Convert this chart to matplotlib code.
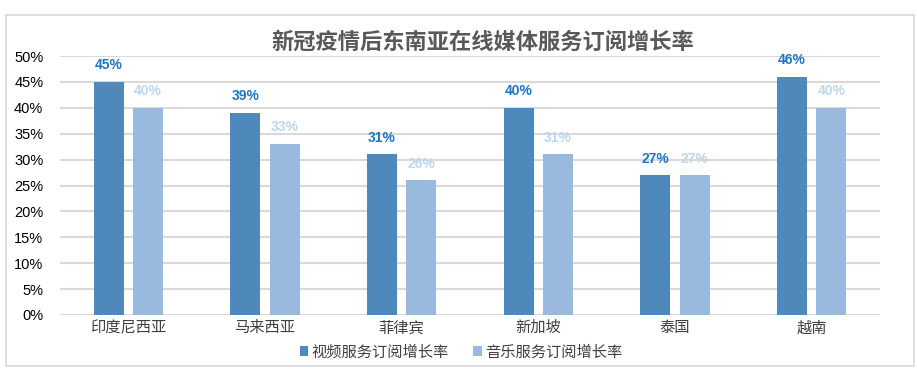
import matplotlib
matplotlib.use("Agg")
import matplotlib.pyplot as plt
import numpy as np
from matplotlib.patches import Rectangle

plt.rcParams['font.family'] = ['Noto Sans CJK SC', 'DejaVu Sans']

categories = ['印度尼西亚', '马来西亚', '菲律宾', '新加坡', '泰国', '越南']
video = [45, 39, 31, 40, 27, 46]
music = [40, 33, 26, 31, 27, 40]
series_names = ['视频服务订阅增长率', '音乐服务订阅增长率']
yticks = [0, 5, 10, 15, 20, 25, 30, 35, 40, 45, 50]
title = '新冠疫情后东南亚在线媒体服务订阅增长率'

W, H = 917, 374
fig = plt.figure(figsize=(W / 100, H / 100), dpi=100)
fig.patches.append(Rectangle((6 / W, 1 - 366 / H), 908 / W, 351 / H, transform=fig.transFigure,
                             fill=False, edgecolor='#D9D9D9', linewidth=1.2))

ax = fig.add_axes([60 / W, 1 - 315 / H, 820 / W, 259 / H])
x = np.arange(len(categories))
bw = 0.22
off = 0.143
c1, c2 = '#4F88BB', '#9AB9DF'
b1 = ax.bar(x - off, video, bw, color=c1, label=series_names[0], zorder=3)
b2 = ax.bar(x + off, music, bw, color=c2, label=series_names[1], zorder=3)
for xi, v in zip(x, video):
    ax.text(xi - off, v + 3.2, f'{v}%', ha='center', va='center', color='#1F77C4',
            fontsize=10, fontweight='bold', family='Liberation Sans')
for xi, v in zip(x, music):
    ax.text(xi + off, v + 3.2, f'{v}%', ha='center', va='center', color='#BDD7EE',
            fontsize=10, fontweight='bold', family='Liberation Sans')

ax.set_xlim(-0.5, len(categories) - 0.5)
ax.set_ylim(0, 50)
ax.set_yticks(yticks)
ax.set_yticklabels([f'{t}%' for t in yticks], family='Liberation Sans', fontsize=10.5, color='#000000')
ax.set_xticks(x)
ax.set_xticklabels(categories, fontsize=11, color='#404040')
ax.tick_params(axis='both', length=0)
ax.tick_params(axis='y', pad=12)
ax.tick_params(axis='x', pad=3)
ax.yaxis.grid(True, color='#D9D9D9', linewidth=1.5, zorder=0)
for s in ax.spines.values():
    s.set_visible(False)

fig.text(483 / W, 1 - 42 / H, title, ha='center', va='center', fontsize=16,
         fontweight='bold', color='#595959')

leg = fig.legend(handles=[b1, b2], loc='center', bbox_to_anchor=(461 / W, 1 - 352 / H),
                 ncol=2, frameon=False, fontsize=11, handlelength=0.55, handleheight=0.55,
                 handletextpad=0.2, columnspacing=1.6)
for t in leg.get_texts():
    t.set_color('#404040')

fig.savefig('out.png', dpi=100)
